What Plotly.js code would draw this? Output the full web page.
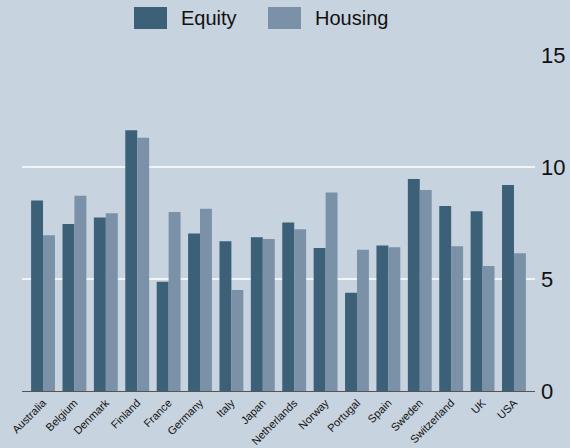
<!DOCTYPE html>
<html><head><meta charset="utf-8">
<script src="https://cdn.plot.ly/plotly-3.0.1.min.js"></script>
<style>html,body{margin:0;padding:0;background:#c7d3df;}#chart{width:570px;height:448px;}</style>
</head><body><div id="chart"></div>
<script>
const countries = ["Australia","Belgium","Denmark","Finland","France","Germany","Italy","Japan","Netherlands","Norway","Portugal","Spain","Sweden","Switzerland","UK","USA"];
const equity  = [8.51, 7.46, 7.74, 11.64, 4.88, 7.03, 6.68, 6.86, 7.52, 6.38, 4.39, 6.49, 9.46, 8.26, 8.02, 9.20];
const housing = [6.95, 8.72, 7.93, 11.31, 7.99, 8.14, 4.51, 6.79, 7.22, 8.86, 6.31, 6.42, 8.97, 6.46, 5.58, 6.15];
const yTicks = [0, 5, 10, 15];
const gridVals = [5, 10];
const seriesNames = ["Equity", "Housing"];
const colors = ["#3d6079", "#7b91a7"];
const bg = "#c7d3df";
const font = "Liberation Sans, Arial, sans-serif";

const traces = [
  {type:"bar", x:countries, y:equity, name:seriesNames[0], marker:{color:colors[0]}, showlegend:false},
  {type:"bar", x:countries, y:housing, name:seriesNames[1], marker:{color:colors[1]}, showlegend:false}
];

const shapes = gridVals.map(v => ({type:"line", xref:"paper", yref:"y", x0:0, x1:1, y0:v, y1:v, line:{color:"#ffffff", width:1.6}, layer:"below"}));
// legend swatches
const legendX = [[134,167],[268,301]];
const annotations = [];
seriesNames.forEach((n,i) => {
  shapes.push({type:"rect", xref:"paper", yref:"paper",
    x0:(legendX[i][0]-22)/513, x1:(legendX[i][1]-22)/513,
    y0:(391-29)/336, y1:(391-7)/336, fillcolor:colors[i], line:{width:0}});
  annotations.push({xref:"paper", yref:"paper", x:(legendX[i][1]+12-22)/513, y:(391-18)/336,
    xanchor:"left", yanchor:"middle", text:n, showarrow:false, font:{family:font, size:20, color:"#111"}});
});

const layout = {
  width:570, height:448,
  paper_bgcolor:bg, plot_bgcolor:bg,
  margin:{l:22, r:35, t:55, b:57},
  barmode:"group", bargap:0.24, bargroupgap:0,
  font:{family:font, color:"#111"},
  xaxis:{type:"category", range:[-0.67, 15.67], showgrid:false, zeroline:false,
    showline:true, linecolor:"#555", linewidth:1.2, ticks:"", tickangle:-45,
    tickfont:{family:font, size:11, color:"#111"}, fixedrange:true},
  yaxis:{side:"right", range:[0,15], tickvals:yTicks, ticktext:yTicks.map(String),
    showgrid:false, zeroline:false, showline:false, ticks:"", ticklabelstandoff:5,
    tickfont:{family:font, size:22, color:"#111"}, fixedrange:true},
  shapes:shapes, annotations:annotations,
  showlegend:false
};
Plotly.newPlot("chart", traces, layout, {staticPlot:true, displayModeBar:false});
</script></body></html>
